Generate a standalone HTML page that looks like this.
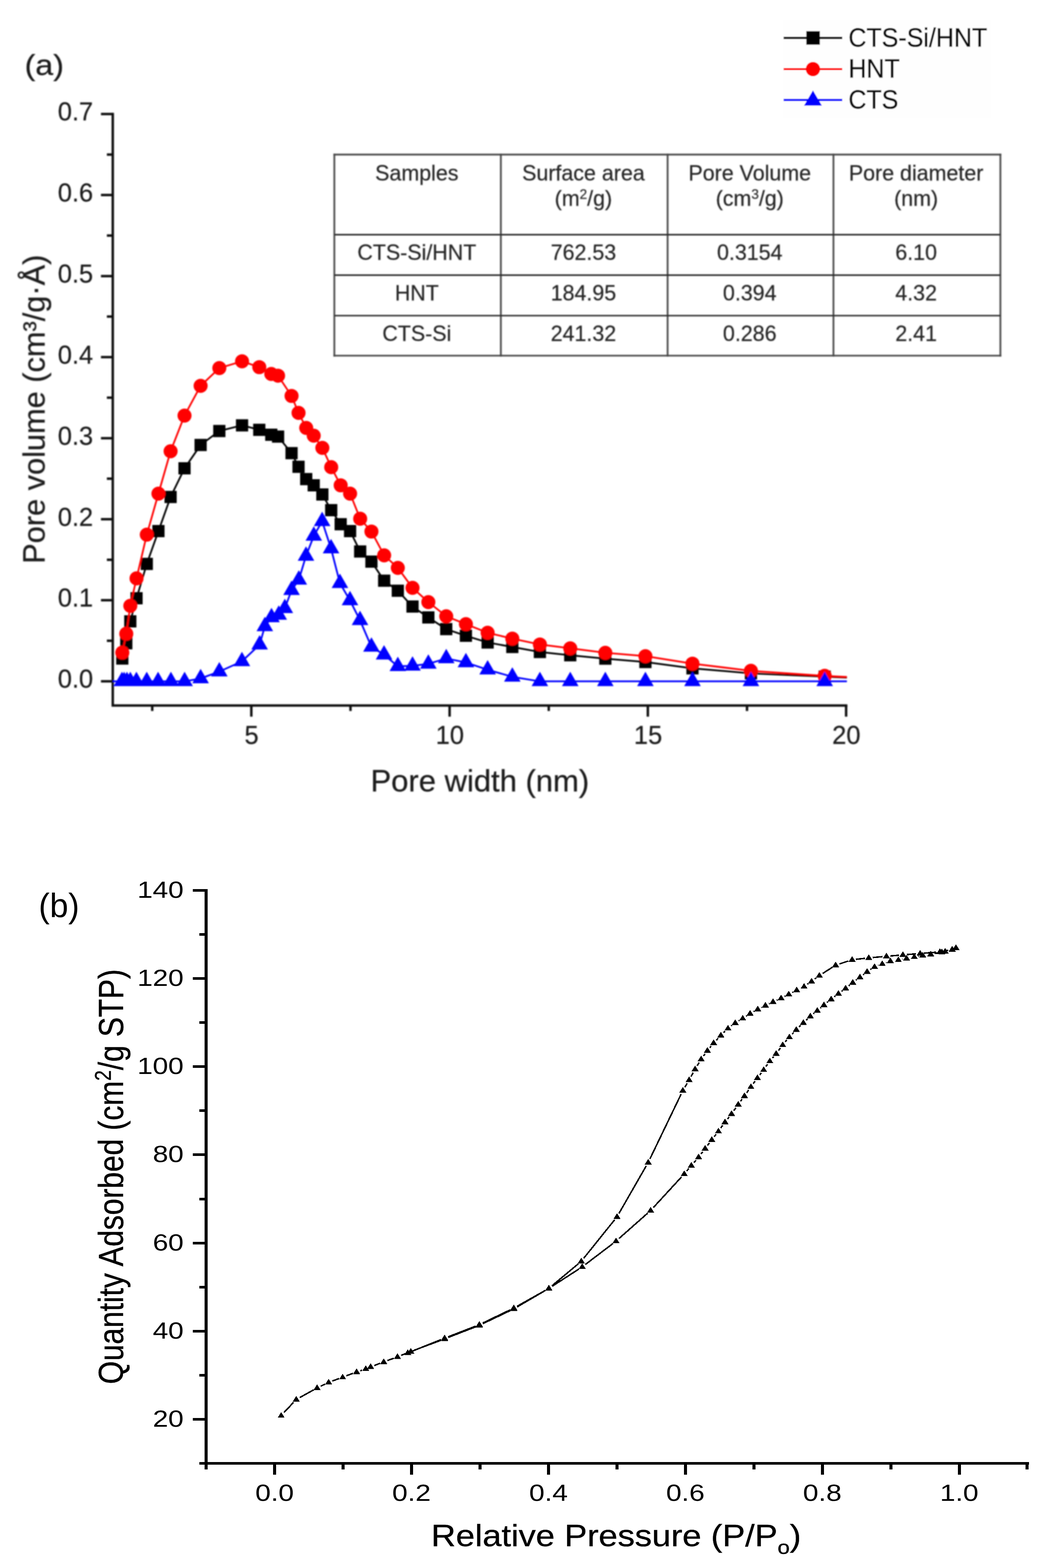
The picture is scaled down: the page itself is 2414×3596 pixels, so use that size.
<!DOCTYPE html>
<html lang="en"><head><meta charset="utf-8"><title>Pore size distribution and N2 isotherm</title>
<style>html,body{margin:0;padding:0;background:#fff}svg{display:block}</style></head>
<body>
<svg width="2414" height="3596" viewBox="0 0 2414 3596">
<defs><filter id="blurA" x="0" y="0" width="2414" height="1950" filterUnits="userSpaceOnUse"><feGaussianBlur stdDeviation="1.6"/></filter><filter id="blurL" x="1780" y="30" width="520" height="260" filterUnits="userSpaceOnUse"><feGaussianBlur stdDeviation="1.1"/></filter></defs>
<rect width="2414" height="3596" fill="#fff"/>
<g filter="url(#blurA)">
<path d="M258.5 258.7V1618.0H1942.5" fill="none" stroke="#0a0a0a" stroke-width="5.5" stroke-linejoin="miter"/>
<path d="M231.5 1562.5H258.5M231.5 1376.6H258.5M231.5 1190.8H258.5M231.5 1004.9H258.5M231.5 819.1H258.5M231.5 633.2H258.5M231.5 447.3H258.5M231.5 261.5H258.5M245.0 1469.6H258.5M245.0 1283.7H258.5M245.0 1097.8H258.5M245.0 912.0H258.5M245.0 726.1H258.5M245.0 540.3H258.5M245.0 354.4H258.5M576.2 1618.0V1643.5M1030.7 1618.0V1643.5M1485.2 1618.0V1643.5M1939.7 1618.0V1643.5M349.0 1618.0V1630.6M803.5 1618.0V1630.6M1258.0 1618.0V1630.6M1712.5 1618.0V1630.6" fill="none" stroke="#0a0a0a" stroke-width="5.5"/>
<g font-family='"Liberation Sans", sans-serif' font-size="58.3" fill="#1c1c1c" stroke="#1c1c1c" stroke-width="0.4">
<text x="213.5" y="1577.3" text-anchor="end">0.0</text>
<text x="213.5" y="1391.4" text-anchor="end">0.1</text>
<text x="213.5" y="1205.6" text-anchor="end">0.2</text>
<text x="213.5" y="1019.7" text-anchor="end">0.3</text>
<text x="213.5" y="833.9" text-anchor="end">0.4</text>
<text x="213.5" y="648.0" text-anchor="end">0.5</text>
<text x="213.5" y="462.1" text-anchor="end">0.6</text>
<text x="213.5" y="276.3" text-anchor="end">0.7</text>
<text x="576.7" y="1706.3" text-anchor="middle">5</text>
<text x="1031.2" y="1706.3" text-anchor="middle">10</text>
<text x="1485.7" y="1706.3" text-anchor="middle">15</text>
<text x="1940.2" y="1706.3" text-anchor="middle">20</text>
</g>
<text x="1100" y="1815" text-anchor="middle" font-family='"Liberation Sans", sans-serif' font-size="71" fill="#1c1c1c" stroke="#1c1c1c" stroke-width="0.5">Pore width (nm)</text>
<text transform="translate(102.3 938.5) rotate(-90)" text-anchor="middle" font-family='"Liberation Sans", sans-serif' font-size="70.5" fill="#1c1c1c" stroke="#1c1c1c" stroke-width="0.5">Pore volume (cm³/g·Å)</text>
<text transform="translate(56.5 171.5) scale(1.09 1)" font-family='"Liberation Sans", sans-serif' font-size="67.5" fill="#1c1c1c" stroke="#1c1c1c" stroke-width="0.5">(a)</text>
<polyline points="280.4,1510.2 289.5,1475.2 298.7,1425.0 313.0,1372.1 336.5,1293.2 363.2,1218.0 391.1,1139.7 423.0,1074.1 459.9,1020.5 502.8,988.4 554.9,975.4 594.4,985.7 621.9,996.9 637.5,1001.3 668.4,1039.3 684.4,1070.5 702.0,1098.7 719.2,1112.9 739.0,1133.9 759.3,1170.0 781.0,1202.2 802.6,1217.9 825.7,1264.7 851.5,1288.1 880.7,1331.7 912.0,1354.7 945.7,1391.1 982.0,1416.0 1023.0,1442.8 1068.1,1458.1 1117.9,1473.4 1174.5,1483.7 1237.7,1495.2 1307.3,1502.8 1387.7,1510.5 1479.6,1518.2 1587.5,1532.7 1721.5,1544.2 1890.6,1551.8 1941.5,1554.0" fill="none" stroke="#000" stroke-width="4" stroke-linejoin="round"/>
<path d="M266.4 1496.2h28v28h-28zM275.5 1461.2h28v28h-28zM284.7 1411.0h28v28h-28zM299.0 1358.1h28v28h-28zM322.5 1279.2h28v28h-28zM349.2 1204.0h28v28h-28zM377.1 1125.7h28v28h-28zM409.0 1060.1h28v28h-28zM445.9 1006.5h28v28h-28zM488.8 974.4h28v28h-28zM540.9 961.4h28v28h-28zM580.4 971.7h28v28h-28zM607.9 982.9h28v28h-28zM623.5 987.3h28v28h-28zM654.4 1025.3h28v28h-28zM670.4 1056.5h28v28h-28zM688.0 1084.7h28v28h-28zM705.2 1098.9h28v28h-28zM725.0 1119.9h28v28h-28zM745.3 1156.0h28v28h-28zM767.0 1188.2h28v28h-28zM788.6 1203.9h28v28h-28zM811.7 1250.7h28v28h-28zM837.5 1274.1h28v28h-28zM866.7 1317.7h28v28h-28zM898.0 1340.7h28v28h-28zM931.7 1377.1h28v28h-28zM968.0 1402.0h28v28h-28zM1009.0 1428.8h28v28h-28zM1054.1 1444.1h28v28h-28zM1103.9 1459.4h28v28h-28zM1160.5 1469.7h28v28h-28zM1223.7 1481.2h28v28h-28zM1293.3 1488.8h28v28h-28zM1373.7 1496.5h28v28h-28zM1465.6 1504.2h28v28h-28zM1573.5 1518.7h28v28h-28zM1707.5 1530.2h28v28h-28zM1876.6 1537.8h28v28h-28z" fill="#000"/>
<polyline points="280.4,1496.5 289.5,1453.4 298.7,1389.3 313.0,1326.4 336.5,1226.2 363.2,1132.1 391.1,1034.8 423.0,953.1 459.9,884.8 502.8,844.2 554.9,828.6 594.4,842.0 621.9,857.6 637.5,861.6 668.4,908.0 684.4,946.9 702.0,981.3 719.2,999.1 739.0,1027.2 759.3,1071.4 781.0,1113.0 802.6,1132.1 825.7,1189.7 851.5,1219.0 880.7,1273.6 912.0,1302.3 945.7,1348.2 982.0,1380.8 1023.0,1413.3 1068.1,1431.3 1117.9,1451.2 1174.5,1464.6 1237.7,1478.0 1307.3,1486.8 1387.7,1497.1 1479.6,1504.8 1587.5,1522.0 1721.5,1538.4 1890.6,1549.9 1941.5,1552.6" fill="none" stroke="#ff0000" stroke-width="4" stroke-linejoin="round"/>
<g fill="#ff0000"><circle cx="280.4" cy="1496.5" r="16.1"/><circle cx="289.5" cy="1453.4" r="16.1"/><circle cx="298.7" cy="1389.3" r="16.1"/><circle cx="313.0" cy="1326.4" r="16.1"/><circle cx="336.5" cy="1226.2" r="16.1"/><circle cx="363.2" cy="1132.1" r="16.1"/><circle cx="391.1" cy="1034.8" r="16.1"/><circle cx="423.0" cy="953.1" r="16.1"/><circle cx="459.9" cy="884.8" r="16.1"/><circle cx="502.8" cy="844.2" r="16.1"/><circle cx="554.9" cy="828.6" r="16.1"/><circle cx="594.4" cy="842.0" r="16.1"/><circle cx="621.9" cy="857.6" r="16.1"/><circle cx="637.5" cy="861.6" r="16.1"/><circle cx="668.4" cy="908.0" r="16.1"/><circle cx="684.4" cy="946.9" r="16.1"/><circle cx="702.0" cy="981.3" r="16.1"/><circle cx="719.2" cy="999.1" r="16.1"/><circle cx="739.0" cy="1027.2" r="16.1"/><circle cx="759.3" cy="1071.4" r="16.1"/><circle cx="781.0" cy="1113.0" r="16.1"/><circle cx="802.6" cy="1132.1" r="16.1"/><circle cx="825.7" cy="1189.7" r="16.1"/><circle cx="851.5" cy="1219.0" r="16.1"/><circle cx="880.7" cy="1273.6" r="16.1"/><circle cx="912.0" cy="1302.3" r="16.1"/><circle cx="945.7" cy="1348.2" r="16.1"/><circle cx="982.0" cy="1380.8" r="16.1"/><circle cx="1023.0" cy="1413.3" r="16.1"/><circle cx="1068.1" cy="1431.3" r="16.1"/><circle cx="1117.9" cy="1451.2" r="16.1"/><circle cx="1174.5" cy="1464.6" r="16.1"/><circle cx="1237.7" cy="1478.0" r="16.1"/><circle cx="1307.3" cy="1486.8" r="16.1"/><circle cx="1387.7" cy="1497.1" r="16.1"/><circle cx="1479.6" cy="1504.8" r="16.1"/><circle cx="1587.5" cy="1522.0" r="16.1"/><circle cx="1721.5" cy="1538.4" r="16.1"/><circle cx="1890.6" cy="1549.9" r="16.1"/></g>
<polyline points="258.5,1562.6 279.5,1562.6 284.6,1562.6 291.0,1562.6 298.7,1562.6 312.7,1562.6 336.4,1562.6 362.4,1562.6 391.8,1562.6 423.2,1562.6 459.9,1556.0 502.8,1540.2 554.6,1516.7 595.2,1478.5 607.1,1436.5 622.4,1416.1 639.0,1410.2 653.0,1394.9 668.4,1353.6 685.0,1329.8 701.5,1275.0 719.4,1229.1 738.5,1195.4 758.9,1257.9 779.3,1337.5 802.3,1377.0 825.3,1422.4 851.5,1483.5 880.4,1501.4 912.0,1528.1 945.7,1527.0 982.0,1522.4 1023.0,1510.1 1068.1,1519.3 1117.9,1535.8 1174.5,1552.2 1237.7,1562.6 1307.3,1562.6 1387.7,1562.6 1479.6,1562.6 1587.5,1562.6 1721.5,1562.6 1890.6,1562.6 1941.5,1562.6" fill="none" stroke="#0000ff" stroke-width="4" stroke-linejoin="round"/>
<path d="M279.5 1540.6l19.0 33.0h-38.0zM284.6 1540.6l19.0 33.0h-38.0zM291.0 1540.6l19.0 33.0h-38.0zM298.7 1540.6l19.0 33.0h-38.0zM312.7 1540.6l19.0 33.0h-38.0zM336.4 1540.6l19.0 33.0h-38.0zM362.4 1540.6l19.0 33.0h-38.0zM391.8 1540.6l19.0 33.0h-38.0zM423.2 1540.6l19.0 33.0h-38.0zM459.9 1534.0l19.0 33.0h-38.0zM502.8 1518.2l19.0 33.0h-38.0zM554.6 1494.7l19.0 33.0h-38.0zM595.2 1456.5l19.0 33.0h-38.0zM607.1 1414.5l19.0 33.0h-38.0zM622.4 1394.1l19.0 33.0h-38.0zM639.0 1388.2l19.0 33.0h-38.0zM653.0 1372.9l19.0 33.0h-38.0zM668.4 1331.6l19.0 33.0h-38.0zM685.0 1307.8l19.0 33.0h-38.0zM701.5 1253.0l19.0 33.0h-38.0zM719.4 1207.1l19.0 33.0h-38.0zM738.5 1173.4l19.0 33.0h-38.0zM758.9 1235.9l19.0 33.0h-38.0zM779.3 1315.5l19.0 33.0h-38.0zM802.3 1355.0l19.0 33.0h-38.0zM825.3 1400.4l19.0 33.0h-38.0zM851.5 1461.5l19.0 33.0h-38.0zM880.4 1479.4l19.0 33.0h-38.0zM912.0 1506.1l19.0 33.0h-38.0zM945.7 1505.0l19.0 33.0h-38.0zM982.0 1500.4l19.0 33.0h-38.0zM1023.0 1488.1l19.0 33.0h-38.0zM1068.1 1497.3l19.0 33.0h-38.0zM1117.9 1513.8l19.0 33.0h-38.0zM1174.5 1530.2l19.0 33.0h-38.0zM1237.7 1540.6l19.0 33.0h-38.0zM1307.3 1540.6l19.0 33.0h-38.0zM1387.7 1540.6l19.0 33.0h-38.0zM1479.6 1540.6l19.0 33.0h-38.0zM1587.5 1540.6l19.0 33.0h-38.0zM1721.5 1540.6l19.0 33.0h-38.0zM1890.6 1540.6l19.0 33.0h-38.0z" fill="#0000ff"/>
<path d="M766.5 352.5V817.7M1148.2 352.5V817.7M1530.5 352.5V817.7M1910.7 352.5V817.7M2293.4 352.5V817.7" fill="none" stroke="#505050" stroke-width="4.2"/>
<path d="M764.5 354.5H2295.4M764.5 815.7H2295.4" fill="none" stroke="#444" stroke-width="3.8"/>
<path d="M766.5 538.2H2293.4M766.5 631.0H2293.4M766.5 723.9H2293.4" fill="none" stroke="#202020" stroke-width="3.4"/>
<g font-family='"Liberation Sans", sans-serif' font-size="49.1" fill="#262626" stroke="#262626" stroke-width="0.4" text-anchor="middle">
<text x="955.6" y="414.3">Samples</text>
<text x="1337.5" y="414.3">Surface area</text>
<text x="1337.5" y="471.8">(m<tspan font-size="31" dy="-16">2</tspan><tspan dy="16">/g)</tspan></text>
<text x="1718.8" y="414.3">Pore Volume</text>
<text x="1718.8" y="471.8">(cm<tspan font-size="31" dy="-16">3</tspan><tspan dy="16">/g)</tspan></text>
<text x="2100.2" y="414.3">Pore diameter</text>
<text x="2100.2" y="471.8">(nm)</text>
<text x="955.6" y="596.3">CTS-Si/HNT</text>
<text x="1337.5" y="596.3">762.53</text>
<text x="1718.8" y="596.3">0.3154</text>
<text x="2100.2" y="596.3">6.10</text>
<text x="955.6" y="688.7">HNT</text>
<text x="1337.5" y="688.7">184.95</text>
<text x="1718.8" y="688.7">0.394</text>
<text x="2100.2" y="688.7">4.32</text>
<text x="955.6" y="781.5">CTS-Si</text>
<text x="1337.5" y="781.5">241.32</text>
<text x="1718.8" y="781.5">0.286</text>
<text x="2100.2" y="781.5">2.41</text>
</g>
</g>
<g filter="url(#blurL)">
<rect x="1793" y="46.5" width="479" height="224" fill="#fefefe"/>
<path d="M1796.5 87H1931" stroke="#000" stroke-width="5" fill="none"/>
<path d="M1796.5 158.5H1931" stroke="#ff0000" stroke-width="5" fill="none"/>
<path d="M1796.5 229.3H1931" stroke="#0000ff" stroke-width="5" fill="none"/>
<rect x="1848.5" y="71.5" width="31" height="31" fill="#000"/>
<circle cx="1863.7" cy="158.5" r="16.5" fill="#ff0000"/>
<path d="M1863.7 207.3l20.5 35h-41z" fill="#0000ff"/>
<g font-family='"Liberation Sans", sans-serif' font-size="57.3" fill="#0c0c0c" stroke="#0c0c0c" stroke-width="0.7">
<text transform="translate(1945 107.0) scale(1 1.06)">CTS-Si/HNT</text>
<text transform="translate(1945 177.6) scale(1 1.06)">HNT</text>
<text transform="translate(1945 248.8) scale(1 1.06)">CTS</text>
</g>
</g>
<g shape-rendering="crispEdges">
<path d="M472.7 2038.6V3359.0" stroke="#000" stroke-width="7" fill="none"/>
<path d="M469.2 3356.0H2358.5" stroke="#000" stroke-width="6" fill="none"/>
<path d="M442 3255.2H472.7M442 3052.9H472.7M442 2850.7H472.7M442 2648.4H472.7M442 2446.2H472.7M442 2243.9H472.7M442 2041.6H472.7M457 3356.3H472.7M457 3154.1H472.7M457 2951.8H472.7M457 2749.5H472.7M457 2547.3H472.7M457 2345.0H472.7M457 2142.8H472.7" stroke="#000" stroke-width="6" fill="none"/>
<path d="M629.5 3356.0V3381.8M943.4 3356.0V3381.8M1257.3 3356.0V3381.8M1571.2 3356.0V3381.8M1885.1 3356.0V3381.8M2199.0 3356.0V3381.8M472.5 3356.0V3369.5M786.5 3356.0V3369.5M1100.4 3356.0V3369.5M1414.2 3356.0V3369.5M1728.2 3356.0V3369.5M2042.0 3356.0V3369.5M2354.4 3356.0V3369.5" stroke="#000" stroke-width="7" fill="none"/>
<g font-family='"Liberation Sans", sans-serif' font-size="54" fill="#000">
<text transform="translate(421 3272.2) scale(1.18 1)" text-anchor="end">20</text>
<text transform="translate(421 3069.9) scale(1.18 1)" text-anchor="end">40</text>
<text transform="translate(421 2867.7) scale(1.18 1)" text-anchor="end">60</text>
<text transform="translate(421 2665.4) scale(1.18 1)" text-anchor="end">80</text>
<text transform="translate(421 2463.2) scale(1.18 1)" text-anchor="end">100</text>
<text transform="translate(421 2260.9) scale(1.18 1)" text-anchor="end">120</text>
<text transform="translate(421 2058.6) scale(1.18 1)" text-anchor="end">140</text>
<text transform="translate(629.5 3442.3) scale(1.18 1)" text-anchor="middle">0.0</text>
<text transform="translate(943.4 3442.3) scale(1.18 1)" text-anchor="middle">0.2</text>
<text transform="translate(1257.3 3442.3) scale(1.18 1)" text-anchor="middle">0.4</text>
<text transform="translate(1571.2 3442.3) scale(1.18 1)" text-anchor="middle">0.6</text>
<text transform="translate(1885.1 3442.3) scale(1.18 1)" text-anchor="middle">0.8</text>
<text transform="translate(2199.0 3442.3) scale(1.18 1)" text-anchor="middle">1.0</text>
</g>
<text transform="translate(1412.5 3546.2) scale(1.13 1)" text-anchor="middle" font-family='"Liberation Sans", sans-serif' font-size="69.5" fill="#000" stroke="#000" stroke-width="0.5">Relative Pressure (P/P<tspan font-size="44.5" dy="17.5">o</tspan><tspan dy="-17.5">)</tspan></text>
<text transform="translate(281.6 2698.5) rotate(-90) scale(1 1.17)" text-anchor="middle" font-family='"Liberation Sans", sans-serif' font-size="68.4" fill="#000" stroke="#000" stroke-width="0.5">Quantity Adsorbed (cm<tspan font-size="44" dy="-24">2</tspan><tspan dy="24">/g STP)</tspan></text>
<text transform="translate(88.5 2104.3) scale(0.98 1)" font-family='"Liberation Sans", sans-serif' font-size="78" fill="#000">(b)</text>
<path d="M650.8 3239.7L672.9 3216.2M687.0 3205.2L719.0 3187.5M735.0 3179.2L745.3 3174.3M761.8 3167.2L777.2 3161.5M794.0 3155.2L809.1 3149.6M826.0 3143.6L830.0 3142.3M858.1 3131.6L871.3 3126.6M888.1 3120.3L902.8 3114.9M919.6 3108.4L933.4 3102.9M950.2 3096.4L1010.9 3073.7M1027.7 3067.2L1090.5 3042.8M1107.0 3035.6L1169.8 3005.6M1185.7 2997.2L1250.5 2959.3M1265.9 2949.9L1327.2 2910.3M1342.0 2899.9L1405.1 2851.9M1419.0 2840.4L1484.9 2782.1M1497.7 2769.5L1562.5 2699.0M1574.4 2685.5L1579.1 2679.9M1590.8 2666.2L1595.6 2660.7M1606.9 2646.7L1611.1 2641.3M1622.0 2626.9L1626.3 2621.2M1637.3 2606.9L1641.5 2601.4M1652.3 2587.0L1656.8 2580.8M1667.7 2566.4L1671.5 2561.6M1682.3 2547.2L1687.2 2540.4M1697.7 2525.8L1701.4 2520.8M1711.9 2506.1L1716.3 2499.7M1726.9 2485.1L1731.0 2479.4M1741.8 2465.0L1745.3 2460.5M1755.9 2445.9L1759.6 2440.7M1770.7 2426.5L1773.4 2423.3M1784.7 2409.3L1789.0 2403.5M1800.2 2389.4L1803.9 2385.2M1815.9 2371.8L1819.3 2368.1M1831.9 2355.3L1835.3 2352.1M1848.3 2339.6L1851.1 2337.0M1864.7 2325.1L1866.6 2323.5M1880.5 2312.0L1882.0 2310.8M1895.9 2299.3L1898.5 2297.3M1912.6 2286.1L1915.0 2284.4M1929.3 2273.5L1931.4 2272.1M1945.6 2261.0L1947.9 2259.2M1962.1 2248.1L1964.2 2246.6M1978.5 2235.7L1980.7 2234.0M1995.3 2223.6L1997.4 2222.3M2013.3 2214.0L2014.2 2213.7M2031.2 2207.5L2032.6 2207.0M2068.4 2199.8L2069.4 2199.6M2104.9 2192.9L2106.4 2192.6M2142.5 2186.8L2150.4 2185.3M2174.1 2179.3L2163.6 2181.3M2145.8 2183.8L2118.4 2186.0M2100.4 2187.5L2078.9 2189.2M2060.9 2190.7L2041.1 2192.4M2023.1 2194.0L2000.6 2196.0M1982.7 2197.8L1962.4 2200.1M1944.9 2203.9L1924.3 2210.7M1908.1 2218.4L1886.0 2232.5M1871.2 2242.8L1867.7 2245.4M1853.0 2255.8L1850.8 2257.3M1818.4 2275.1L1816.2 2276.2M1800.2 2284.5L1798.7 2285.3M1782.5 2293.1L1780.4 2294.0M1764.1 2301.6L1762.8 2302.1M1746.6 2310.0L1745.2 2310.6M1729.3 2319.0L1727.4 2320.1M1712.0 2329.3L1710.3 2330.5M1695.1 2340.1L1693.1 2341.3M1678.2 2351.4L1676.2 2353.0M1662.5 2364.6L1659.0 2368.2M1646.4 2381.0L1642.2 2385.6M1630.3 2399.1L1627.4 2402.6M1616.4 2416.9L1612.7 2421.9M1602.7 2436.9L1598.2 2444.3M1589.2 2459.9L1584.1 2469.0M1575.2 2484.6L1570.0 2493.4M1561.5 2509.2L1489.9 2657.9M1481.5 2673.8L1419.0 2782.8M1408.9 2797.6L1338.2 2885.6M1325.7 2898.4L1265.2 2949.0M1250.5 2959.2L1185.7 2995.6M1169.8 3003.9L1107.0 3034.1M1090.5 3041.3L1027.7 3065.7M1010.9 3072.3L943.2 3099.5" stroke="#000" stroke-width="3.4" fill="none"/>
<path d="M644.6 3238.5l7.7 12.3h-15.4zM679.1 3201.8l7.7 12.3h-15.4zM726.9 3175.3l7.7 12.3h-15.4zM753.4 3162.6l7.7 12.3h-15.4zM785.6 3150.5l7.7 12.3h-15.4zM817.5 3138.7l7.7 12.3h-15.4zM838.5 3131.6l7.7 12.3h-15.4zM849.7 3126.9l7.7 12.3h-15.4zM879.7 3115.7l7.7 12.3h-15.4zM911.2 3103.9l7.7 12.3h-15.4zM941.8 3091.8l7.7 12.3h-15.4zM1019.3 3062.7l7.7 12.3h-15.4zM1098.9 3031.7l7.7 12.3h-15.4zM1177.9 2993.9l7.7 12.3h-15.4zM1258.3 2947.0l7.7 12.3h-15.4zM1334.8 2897.6l7.7 12.3h-15.4zM1412.3 2838.6l7.7 12.3h-15.4zM1491.6 2768.3l7.7 12.3h-15.4zM1568.6 2684.6l7.7 12.3h-15.4zM1584.9 2665.2l7.7 12.3h-15.4zM1601.5 2646.1l7.7 12.3h-15.4zM1616.5 2626.3l7.7 12.3h-15.4zM1631.8 2606.2l7.7 12.3h-15.4zM1647.0 2586.5l7.7 12.3h-15.4zM1662.1 2565.7l7.7 12.3h-15.4zM1677.1 2546.7l7.7 12.3h-15.4zM1692.4 2525.3l7.7 12.3h-15.4zM1706.7 2505.7l7.7 12.3h-15.4zM1721.5 2484.5l7.7 12.3h-15.4zM1736.4 2464.4l7.7 12.3h-15.4zM1750.7 2445.5l7.7 12.3h-15.4zM1764.8 2425.5l7.7 12.3h-15.4zM1779.3 2408.7l7.7 12.3h-15.4zM1794.4 2388.5l7.7 12.3h-15.4zM1809.7 2370.5l7.7 12.3h-15.4zM1825.5 2353.8l7.7 12.3h-15.4zM1841.7 2338.0l7.7 12.3h-15.4zM1857.7 2323.0l7.7 12.3h-15.4zM1873.6 2310.0l7.7 12.3h-15.4zM1888.9 2297.2l7.7 12.3h-15.4zM1905.5 2283.8l7.7 12.3h-15.4zM1922.1 2271.1l7.7 12.3h-15.4zM1938.6 2258.9l7.7 12.3h-15.4zM1954.9 2245.7l7.7 12.3h-15.4zM1971.4 2233.4l7.7 12.3h-15.4zM1987.8 2220.7l7.7 12.3h-15.4zM2004.9 2209.6l7.7 12.3h-15.4zM2022.6 2202.5l7.7 12.3h-15.4zM2041.2 2196.4l7.7 12.3h-15.4zM2059.5 2193.5l7.7 12.3h-15.4zM2078.3 2190.3l7.7 12.3h-15.4zM2096.0 2186.5l7.7 12.3h-15.4zM2115.3 2183.4l7.7 12.3h-15.4zM2133.7 2180.8l7.7 12.3h-15.4zM2159.2 2175.7l7.7 12.3h-15.4zM2166.8 2174.4l7.7 12.3h-15.4zM2182.9 2169.8l7.7 12.3h-15.4zM2191.6 2166.3l7.7 12.3h-15.4zM2191.6 2166.3l7.7 12.3h-15.4zM2182.9 2169.8l7.7 12.3h-15.4zM2154.8 2175.2l7.7 12.3h-15.4zM2109.4 2179.0l7.7 12.3h-15.4zM2069.9 2182.1l7.7 12.3h-15.4zM2032.1 2185.4l7.7 12.3h-15.4zM1991.6 2189.0l7.7 12.3h-15.4zM1953.5 2193.3l7.7 12.3h-15.4zM1915.7 2205.7l7.7 12.3h-15.4zM1878.4 2229.6l7.7 12.3h-15.4zM1860.5 2243.0l7.7 12.3h-15.4zM1843.3 2254.5l7.7 12.3h-15.4zM1826.4 2263.1l7.7 12.3h-15.4zM1808.2 2272.6l7.7 12.3h-15.4zM1790.7 2281.6l7.7 12.3h-15.4zM1772.2 2289.9l7.7 12.3h-15.4zM1754.7 2298.2l7.7 12.3h-15.4zM1737.1 2306.8l7.7 12.3h-15.4zM1719.6 2316.7l7.7 12.3h-15.4zM1702.7 2327.5l7.7 12.3h-15.4zM1685.5 2338.3l7.7 12.3h-15.4zM1668.9 2350.5l7.7 12.3h-15.4zM1652.6 2366.7l7.7 12.3h-15.4zM1636.0 2384.3l7.7 12.3h-15.4zM1621.7 2401.8l7.7 12.3h-15.4zM1607.4 2421.4l7.7 12.3h-15.4zM1593.5 2444.2l7.7 12.3h-15.4zM1579.8 2469.1l7.7 12.3h-15.4zM1565.4 2493.3l7.7 12.3h-15.4zM1486.0 2658.2l7.7 12.3h-15.4zM1414.5 2782.8l7.7 12.3h-15.4zM1332.6 2884.8l7.7 12.3h-15.4zM1258.3 2947.0l7.7 12.3h-15.4zM1177.9 2992.2l7.7 12.3h-15.4zM1098.9 3030.2l7.7 12.3h-15.4zM1019.3 3061.2l7.7 12.3h-15.4zM934.8 3095.0l7.7 12.3h-15.4z" fill="#000" stroke="#000" stroke-width="0.6"/>
</g>
</svg>
</body></html>
